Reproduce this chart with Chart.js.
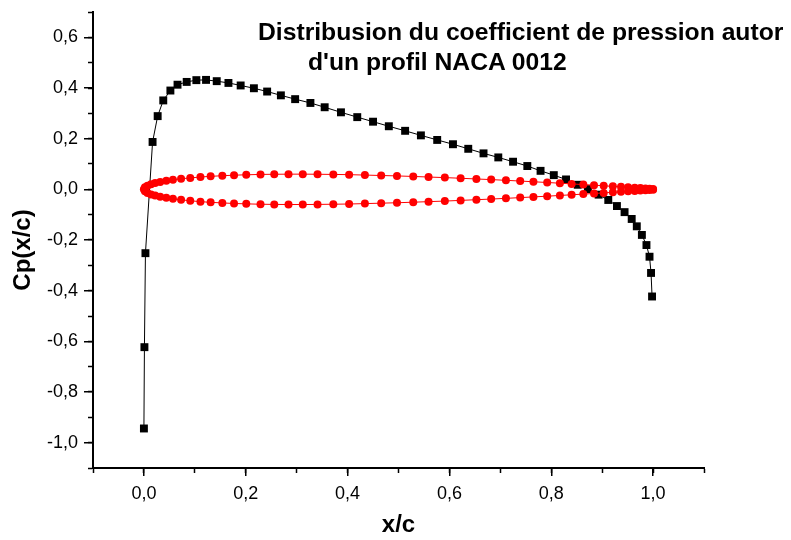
<!DOCTYPE html>
<html>
<head>
<meta charset="utf-8">
<script src="https://cdn.jsdelivr.net/npm/chart.js@4/dist/chart.umd.min.js"></script>
<style>
    html, body { margin: 0; padding: 0; background: #fff; }
    #wrap { position: relative; width: 791px; height: 540px; overflow: hidden; }
    #c { position: absolute; left: 0; top: 0; }
    .titre {
        position: absolute;
        font-family: "Liberation Sans", Arial, sans-serif;
        font-weight: bold;
        font-size: 24.7px;
        line-height: 25px;
        color: #000;
        white-space: nowrap;
    }
</style>
</head>
<body>
<div id="wrap">
    <canvas id="c" width="791" height="540"></canvas>
    <div class="titre" style="left:258px; top:19px;">Distribusion du coefficient de pression autor</div>
    <div class="titre" style="left:308px; top:49px;">d'un profil NACA 0012</div>
</div>
<script>
// Cp(x/c) - carrés noirs
const cpX = [0.000, 0.001, 0.003, 0.017, 0.027, 0.038, 0.052, 0.066, 0.084, 0.103,
    0.122, 0.143, 0.166, 0.190, 0.216, 0.242, 0.269, 0.297, 0.327, 0.355,
    0.387, 0.419, 0.450, 0.481, 0.513, 0.544, 0.576, 0.607, 0.637, 0.667,
    0.696, 0.725, 0.753, 0.779, 0.805, 0.829, 0.852, 0.872, 0.893, 0.912,
    0.929, 0.944, 0.958, 0.968, 0.978, 0.987, 0.993, 0.996, 0.998];
const cpY = [-0.944, -0.623, -0.252, 0.187, 0.289, 0.351, 0.390, 0.413, 0.424, 0.431,
    0.432, 0.427, 0.420, 0.410, 0.399, 0.386, 0.371, 0.356, 0.341, 0.324,
    0.304, 0.285, 0.267, 0.249, 0.231, 0.213, 0.195, 0.178, 0.160, 0.142,
    0.126, 0.109, 0.092, 0.073, 0.056, 0.039, 0.018, 0.001, -0.021, -0.042,
    -0.066, -0.090, -0.117, -0.146, -0.180, -0.220, -0.266, -0.330, -0.423];

// profil NACA 0012 - points rouges
const profilX = [0.000, 0.002, 0.007, 0.014, 0.022, 0.032, 0.044, 0.057, 0.073, 0.091,
    0.111, 0.131, 0.154, 0.177, 0.201, 0.229, 0.256, 0.284, 0.312, 0.341,
    0.372, 0.403, 0.434, 0.466, 0.497, 0.529, 0.559, 0.591, 0.622, 0.653,
    0.682, 0.711, 0.739, 0.765, 0.792, 0.817, 0.840, 0.863, 0.884, 0.903,
    0.921, 0.937, 0.951, 0.964, 0.975, 0.985, 0.993, 1.000];
const extradosY = [0.0000, 0.0078, 0.0144, 0.0200, 0.0247, 0.0292, 0.0336, 0.0376, 0.0416, 0.0452,
    0.0486, 0.0513, 0.0537, 0.0558, 0.0574, 0.0588, 0.0595, 0.0599, 0.0600, 0.0595,
    0.0588, 0.0579, 0.0563, 0.0546, 0.0530, 0.0508, 0.0486, 0.0463, 0.0437, 0.0409,
    0.0384, 0.0356, 0.0327, 0.0299, 0.0270, 0.0242, 0.0215, 0.0188, 0.0164, 0.0141,
    0.0117, 0.0098, 0.0080, 0.0064, 0.0050, 0.0037, 0.0026, 0.0013];
const intradosY = [0.0000, -0.0078, -0.0144, -0.0200, -0.0247, -0.0292, -0.0336, -0.0376, -0.0416, -0.0452,
    -0.0486, -0.0513, -0.0537, -0.0558, -0.0574, -0.0588, -0.0595, -0.0599, -0.0600, -0.0595,
    -0.0588, -0.0579, -0.0563, -0.0546, -0.0530, -0.0508, -0.0486, -0.0463, -0.0437, -0.0409,
    -0.0384, -0.0356, -0.0327, -0.0299, -0.0270, -0.0242, -0.0215, -0.0188, -0.0164, -0.0141,
    -0.0117, -0.0098, -0.0080, -0.0064, -0.0050, -0.0037, -0.0026, -0.0013];

const xMajor = [0, 0.2, 0.4, 0.6, 0.8, 1.0];
const xLabels = ['0,0', '0,2', '0,4', '0,6', '0,8', '1,0'];
const yMajor = [-1.0, -0.8, -0.6, -0.4, -0.2, 0, 0.2, 0.4, 0.6];
const yLabels = ['-1,0', '-0,8', '-0,6', '-0,4', '-0,2', '0,0', '0,2', '0,4', '0,6'];

const FONT = '"Liberation Sans", Arial, sans-serif';

function labelFor(value, major, labels) {
    for (let i = 0; i < major.length; i++) {
        if (Math.abs(value - major[i]) < 1e-6) return labels[i];
    }
    return '';
}

function alignPx(p, w) {
    return Math.round(p - w / 2) + w / 2;
}

let cpPoints = cpX.map((x, i) => ({x: x, y: cpY[i]}));

// bord de fuite -> bord d'attaque par l'extrados, puis retour par l'intrados
let profilPoints = [];
for (let i = profilX.length - 1; i >= 0; i--) profilPoints.push({x: profilX[i], y: extradosY[i]});
for (let i = 1; i < profilX.length; i++) profilPoints.push({x: profilX[i], y: intradosY[i]});

// grandes graduations + titre vertical
const axisExtras = {
    id: 'axisExtras',
    afterDraw(chart) {
        const ctx = chart.ctx;
        const area = chart.chartArea;
        const xs = chart.scales.x;
        const ys = chart.scales.y;

        ctx.save();
        ctx.strokeStyle = '#000';
        ctx.lineWidth = 1.5;
        ctx.beginPath();
        xMajor.forEach(v => {
            let px = alignPx(xs.getPixelForValue(v), 1.5);
            ctx.moveTo(px, area.bottom);
            ctx.lineTo(px, area.bottom + 8);
        });
        yMajor.forEach(v => {
            let py = alignPx(ys.getPixelForValue(v), 1.5);
            ctx.moveTo(area.left, py);
            ctx.lineTo(area.left - 9, py);
        });
        ctx.stroke();

        ctx.translate(23, 250);
        ctx.rotate(-Math.PI / 2);
        ctx.font = 'bold 24px ' + FONT;
        ctx.textAlign = 'center';
        ctx.textBaseline = 'middle';
        ctx.fillStyle = '#000';
        ctx.fillText('Cp(x/c)', 0, 0);
        ctx.restore();
    }
};

new Chart(document.getElementById('c'), {
    type: 'scatter',
    data: {
        datasets: [{
            label: 'profil',
            data: profilPoints,
            showLine: true,
            borderColor: '#ff0000',
            borderWidth: 1,
            pointStyle: 'circle',
            pointRadius: 4,
            pointBackgroundColor: '#ff0000',
            pointBorderWidth: 0,
            order: 0
        }, {
            label: 'Cp',
            data: cpPoints,
            showLine: true,
            borderColor: '#000',
            borderWidth: 1,
            pointStyle: 'rect',
            pointRadius: 5.6,
            pointBackgroundColor: '#000',
            pointBorderWidth: 0,
            order: 1
        }]
    },
    options: {
        responsive: false,
        devicePixelRatio: 1,
        animation: false,
        layout: {
            padding: {top: 12, right: 87, left: 0, bottom: 0}
        },
        plugins: {
            legend: {display: false},
            tooltip: {enabled: false}
        },
        scales: {
            x: {
                type: 'linear',
                min: -0.1,
                max: 1.1,
                ticks: {
                    stepSize: 0.1,
                    autoSkip: false,
                    maxRotation: 0,
                    padding: 10,
                    color: '#000',
                    font: {family: FONT, size: 18},
                    callback: v => labelFor(v, xMajor, xLabels)
                },
                grid: {
                    drawOnChartArea: false,
                    drawTicks: true,
                    tickLength: 5,
                    tickWidth: 1.5,
                    tickColor: '#000'
                },
                border: {display: true, color: '#000', width: 2},
                title: {
                    display: true,
                    text: 'x/c',
                    color: '#000',
                    padding: {top: 0, bottom: 0},
                    font: {family: FONT, size: 24, weight: 'bold'}
                },
                afterFit: scale => {
                    scale.height = 72;
                    scale.paddingLeft = 0;
                    scale.paddingRight = 0;
                }
            },
            y: {
                type: 'linear',
                min: -1.1,
                max: 0.7,
                ticks: {
                    stepSize: 0.1,
                    autoSkip: false,
                    padding: 10,
                    color: '#000',
                    font: {family: FONT, size: 18},
                    callback: v => labelFor(v, yMajor, yLabels)
                },
                grid: {
                    drawOnChartArea: false,
                    drawTicks: true,
                    tickLength: 5,
                    tickWidth: 1.5,
                    tickColor: '#000'
                },
                border: {display: true, color: '#000', width: 2},
                afterFit: scale => {
                    scale.width = 93;
                    scale.paddingTop = 0;
                    scale.paddingBottom = 0;
                }
            }
        }
    },
    plugins: [axisExtras]
});
</script>
</body>
</html>
